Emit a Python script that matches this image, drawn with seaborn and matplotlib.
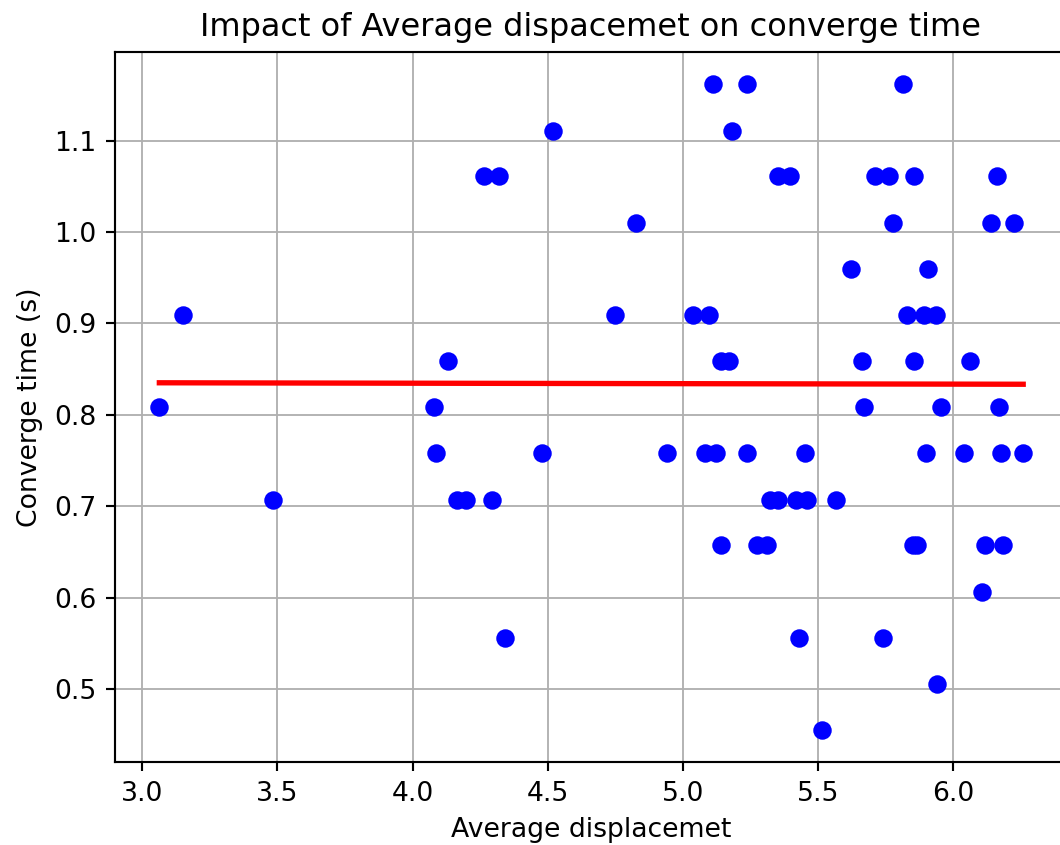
import matplotlib
matplotlib.use("Agg")
import matplotlib.pyplot as plt
import seaborn as sns

# Average displacement of each run
displacement = [
    5.515,
    5.940,
    4.343, 5.429, 5.741,
    6.105,
    5.139, 5.272, 5.312, 5.851, 5.866, 6.116, 6.182,
    3.483, 4.163, 4.197, 4.293, 5.322, 5.352, 5.417, 5.457, 5.566,
    4.087, 4.480, 4.940, 5.081, 5.124, 5.238, 5.451, 5.898, 6.040, 6.176, 6.258,
    3.064, 4.079, 5.670, 5.955, 6.169,
    4.130, 5.140, 5.170, 5.663, 5.855, 6.061,
    3.150, 4.749, 5.038, 5.096, 5.827, 5.892, 5.935,
    5.621, 5.905,
    4.826, 5.778, 6.140, 6.225,
    4.266, 4.321, 5.352, 5.396, 5.710, 5.763, 5.855, 6.160,
    4.521, 5.180,
    5.110, 5.238, 5.812,
]

# Convergence time of each run (s)
converge_time = [
    0.455,
    0.505,
    0.556, 0.556, 0.556,
    0.606,
    0.657, 0.657, 0.657, 0.657, 0.657, 0.657, 0.657,
    0.707, 0.707, 0.707, 0.707, 0.707, 0.707, 0.707, 0.707, 0.707,
    0.758, 0.758, 0.758, 0.758, 0.758, 0.758, 0.758, 0.758, 0.758, 0.758, 0.758,
    0.808, 0.808, 0.808, 0.808, 0.808,
    0.859, 0.859, 0.859, 0.859, 0.859, 0.859,
    0.909, 0.909, 0.909, 0.909, 0.909, 0.909, 0.909,
    0.960, 0.960,
    1.010, 1.010, 1.010, 1.010,
    1.061, 1.061, 1.061, 1.061, 1.061, 1.061, 1.061, 1.061,
    1.111, 1.111,
    1.162, 1.162, 1.162,
]

# Least-squares trend line end points
trend_x = [3.064, 6.258]
trend_y = [0.8350, 0.8334]

DPI = 192
fig = plt.figure(figsize=(1060 / DPI, 845 / DPI), dpi=DPI)
ax = fig.add_axes([115 / 1060, 83 / 845, (1067 - 115) / 1060, (762 - 52) / 845])

sns.scatterplot(x=displacement, y=converge_time, color="blue", s=48,
                linewidth=0, ax=ax, zorder=3)
sns.lineplot(x=trend_x, y=trend_y, color="red", linewidth=2.0, ax=ax,
             zorder=4)

ax.grid(True, color="#b0b0b0", linewidth=0.7)
ax.set_axisbelow(True)
ax.set_xlim(2.90, 6.42)
ax.set_ylim(0.420, 1.197)
ax.set_xticks([3.0, 3.5, 4.0, 4.5, 5.0, 5.5, 6.0])
ax.set_yticks([0.5, 0.6, 0.7, 0.8, 0.9, 1.0, 1.1])

ax.set_title("Impact of Average dispacemet on converge time", fontsize=12)
ax.set_xlabel("Average displacemet", fontsize=10, labelpad=4)
ax.set_ylabel("Converge time (s)", fontsize=10)

fig.savefig("out.png", dpi=DPI)
